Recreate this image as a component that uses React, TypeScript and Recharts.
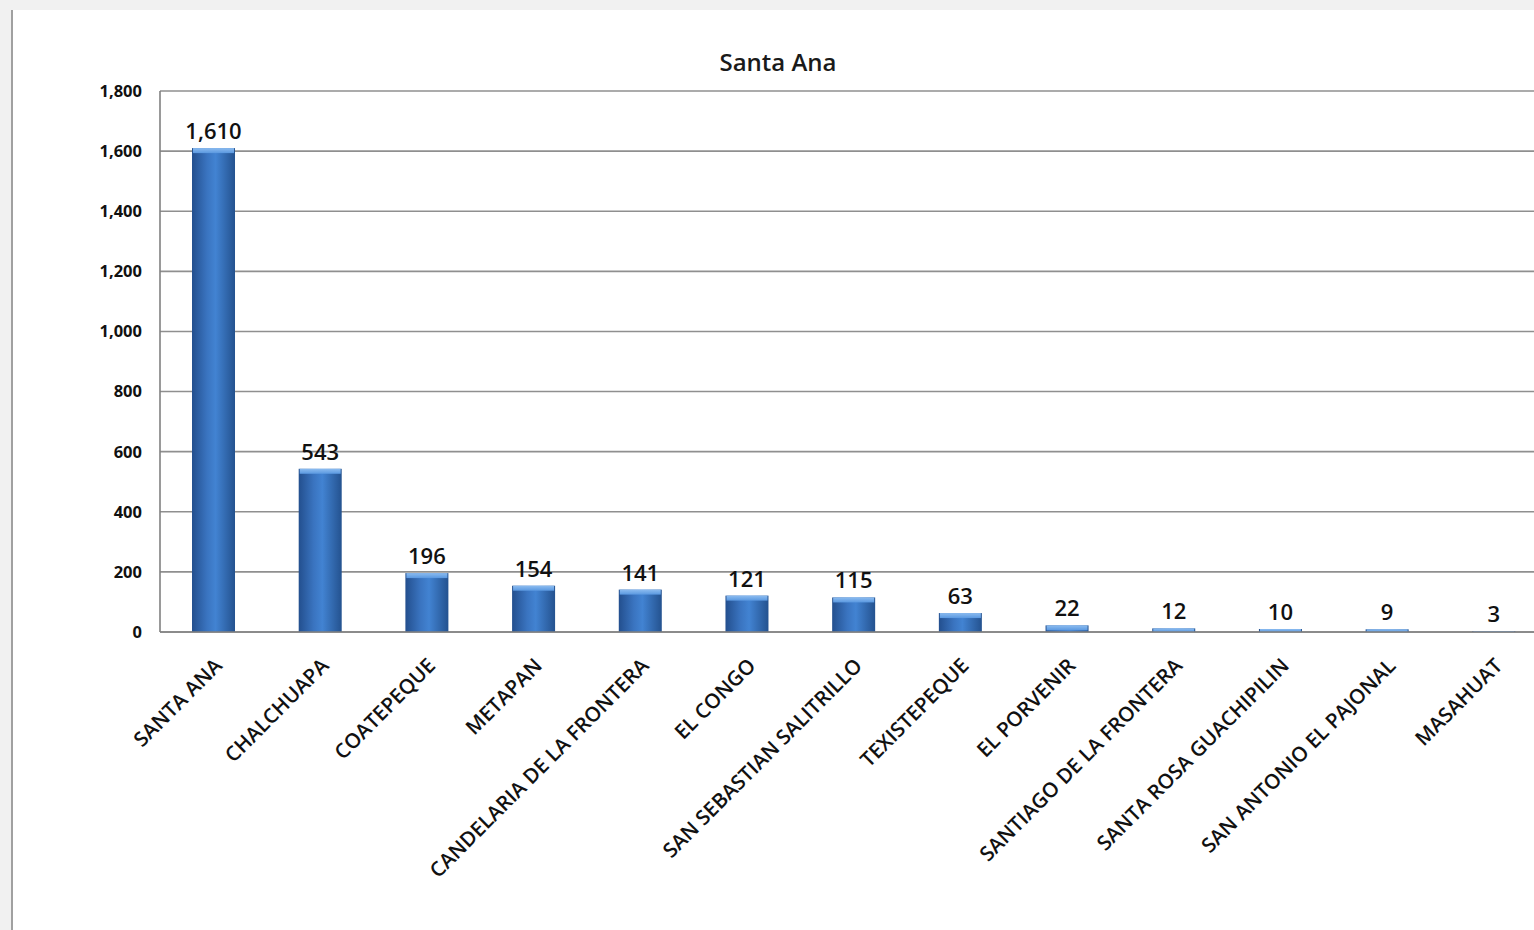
import React from 'react';
import { BarChart, Bar, XAxis, YAxis, CartesianGrid, LabelList } from 'recharts';

const MUNICIPIOS = [
  'SANTA ANA',
  'CHALCHUAPA',
  'COATEPEQUE',
  'METAPAN',
  'CANDELARIA DE LA FRONTERA',
  'EL CONGO',
  'SAN SEBASTIAN SALITRILLO',
  'TEXISTEPEQUE',
  'EL PORVENIR',
  'SANTIAGO DE LA FRONTERA',
  'SANTA ROSA GUACHIPILIN',
  'SAN ANTONIO EL PAJONAL',
  'MASAHUAT',
];

const CASOS = [1610, 543, 196, 154, 141, 121, 115, 63, 22, 12, 10, 9, 3];

const Y_TICKS = [0, 200, 400, 600, 800, 1000, 1200, 1400, 1600, 1800];

const FONT = '"Open Sans", "Liberation Sans", sans-serif';

const data = MUNICIPIOS.map((name, i) => ({ name, casos: CASOS[i] }));

const fmt = (v: number) => v.toLocaleString('en-US');

// bar with dark edges and a lighter bevel on top, like the old excel style
function BevelBar(props: any) {
  const { x, y, width, height } = props;
  if (!height || height <= 0) return null;
  const cap = Math.min(5, height);
  return (
    <g>
      <rect x={x} y={y} width={width} height={height} fill="url(#barGrad)" />
      <rect x={x + 1} y={y} width={width - 2} height={cap} fill="url(#capGrad)" />
    </g>
  );
}

function CategoryTick(props: any) {
  const { x, y, payload } = props;
  const tx = x + 10;
  const ty = y + 27;
  return (
    <text
      x={tx}
      y={ty}
      transform={`rotate(-45, ${tx}, ${ty})`}
      textAnchor="end"
      fontFamily={FONT}
      fontSize={20.5}
      fontWeight={600}
      fill="#111"
    >
      {payload.value}
    </text>
  );
}

export default function App() {
  return (
    <div
      style={{
        position: 'fixed',
        left: 0,
        top: 0,
        width: 1534,
        height: 930,
        overflow: 'hidden',
        background: '#f1f1f1',
      }}
    >
      <div
        style={{
          position: 'absolute',
          left: 11,
          top: 10,
          width: 1540,
          height: 920,
          background: '#fff',
          borderLeft: '2px solid #a0a0a0',
        }}
      />
      <div
        style={{
          position: 'absolute',
          left: 0,
          top: 45,
          width: 1556,
          textAlign: 'center',
          fontFamily: FONT,
          fontSize: 24,
          fontWeight: 600,
          color: '#1a1a1a',
        }}
      >
        Santa Ana
      </div>
      <div style={{ position: 'absolute', left: 0, top: 0 }}>
        <BarChart
          width={1560}
          height={930}
          data={data}
          margin={{ top: 91, right: 13, bottom: 8, left: 0 }}
          barCategoryGap="30%"
        >
          <defs>
            <linearGradient id="barGrad" x1="0" y1="0" x2="1" y2="0">
              <stop offset="0%" stopColor="#234f8e" />
              <stop offset="35%" stopColor="#3a74c0" />
              <stop offset="55%" stopColor="#4283d2" />
              <stop offset="100%" stopColor="#24528f" />
            </linearGradient>
            <linearGradient id="capGrad" x1="0" y1="0" x2="0" y2="1">
              <stop offset="0%" stopColor="#8cbcf0" />
              <stop offset="100%" stopColor="#5a98e0" />
            </linearGradient>
          </defs>
          <CartesianGrid vertical={false} stroke="#8f8f8f" strokeWidth={1.6} />
          <XAxis
            dataKey="name"
            interval={0}
            height={290}
            tick={<CategoryTick />}
            tickLine={false}
            axisLine={{ stroke: '#808080', strokeWidth: 1.6 }}
          />
          <YAxis
            domain={[0, 1800]}
            ticks={Y_TICKS}
            width={160}
            tickFormatter={fmt}
            tickLine={false}
            axisLine={{ stroke: '#808080', strokeWidth: 1.6 }}
            tick={{ fontFamily: FONT, fontSize: 16.5, fontWeight: 700, fill: '#111' }}
            tickMargin={12}
          />
          <Bar dataKey="casos" shape={<BevelBar />} isAnimationActive={false}>
            <LabelList
              dataKey="casos"
              position="top"
              offset={9}
              formatter={(v: any) => fmt(Number(v))}
              style={{ fontFamily: FONT, fontSize: 22, fontWeight: 600, fill: '#111' }}
            />
          </Bar>
        </BarChart>
      </div>
    </div>
  );
}
